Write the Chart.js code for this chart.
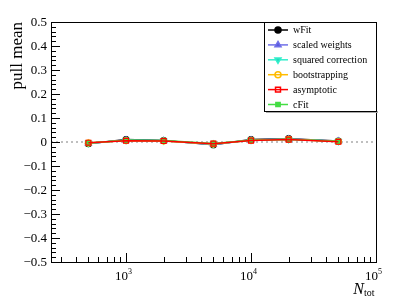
<!DOCTYPE html>
<html>
<head>
<meta charset="utf-8">
<script src="https://cdn.jsdelivr.net/npm/chart.js@4/dist/chart.umd.min.js"></script>
<style>
  html, body { margin: 0; padding: 0; background: #fff; }
  #wrap { width: 407px; height: 299px; }
</style>
</head>
<body>
<div id="wrap"><canvas id="chart" width="407" height="299"></canvas></div>
<script>
// data
const nTot = [500, 1000, 2000, 5000, 10000, 20000, 50000];
const wFit = [-0.007, 0.010, 0.006, -0.011, 0.010, 0.014, 0.004];
const scaledWeights = [-0.006, 0.008, 0.005, -0.010, 0.008, 0.012, 0.003];
const squaredCorr = [-0.005, 0.007, 0.005, -0.009, 0.008, 0.011, 0.003];
const bootstrapping = [-0.004, 0.006, 0.004, -0.008, 0.007, 0.011, 0.002];
const asymptotic = [-0.003, 0.005, 0.004, -0.007, 0.006, 0.010, 0.001];
const cFit = [-0.004, 0.007, 0.006, -0.006, 0.007, 0.010, 0.003];

const seriesNames = ["wFit", "scaled weights", "squared correction", "bootstrapping", "asymptotic", "cFit"];
const yTicks = [-0.5, -0.4, -0.3, -0.2, -0.1, 0, 0.1, 0.2, 0.3, 0.4, 0.5];
const xTickExp = [3, 4, 5];

const serif = '"Liberation Serif", "DejaVu Serif", serif';

const styles = [
  { line: "#000000", fill: "#000000", point: "circle", rot: 0, r: 3 },
  { line: "#7070e8", fill: "#5a5ae0", point: "triangle", rot: 0, r: 3.5 },
  { line: "#33eecc", fill: "#22ddbb", point: "triangle", rot: 180, r: 3.5 },
  { line: "#ffbb00", fill: "rgba(0,0,0,0)", point: "circle", rot: 0, r: 3 },
  { line: "#ff0000", fill: "rgba(0,0,0,0)", point: "rect", rot: 0, r: 3.5 },
  { line: "#44dd44", fill: "#44dd44", point: "rect", rot: 0, r: 3 }
];
const allValues = [wFit, scaledWeights, squaredCorr, bootstrapping, asymptotic, cFit];
// draw order: red on top, then green, ...
const drawOrder = [6, 5, 4, 3, 0, 2];

const datasets = allValues.map((vals, i) => ({
  label: seriesNames[i],
  data: nTot.map((n, j) => ({ x: n, y: vals[j] })),
  showLine: true,
  borderColor: styles[i].line,
  borderWidth: 1.5,
  pointStyle: styles[i].point,
  pointRotation: styles[i].rot,
  pointRadius: styles[i].r,
  pointBackgroundColor: styles[i].fill,
  pointBorderColor: i === 0 ? "#000" : styles[i].line,
  pointBorderWidth: 1.2,
  order: drawOrder[i]
}));

function drawMarker(ctx, i, x, y) {
  const s = styles[i];
  Chart.helpers.drawPoint(ctx, {
    pointStyle: s.point, rotation: s.rot, radius: s.r, borderWidth: 1.2
  }, x, y);
}

const rootAxes = {
  id: "rootAxes",
  beforeDatasetsDraw(chart) {
    const { ctx, chartArea: a, scales: { y } } = chart;
    const y0 = y.getPixelForValue(0);
    ctx.save();
    ctx.strokeStyle = "#aaaaaa";
    ctx.lineWidth = 1.5;
    ctx.setLineDash([2, 3]);
    ctx.beginPath();
    ctx.moveTo(a.left, y0);
    ctx.lineTo(a.right, y0);
    ctx.stroke();
    ctx.restore();
  },
  afterDraw(chart) {
    const { ctx, chartArea: a, scales: { x, y } } = chart;
    ctx.save();
    ctx.strokeStyle = "#000";
    ctx.lineWidth = 1;
    ctx.strokeRect(a.left + 0.5, a.top + 0.5, a.right - a.left, a.bottom - a.top);

    // y ticks
    ctx.beginPath();
    for (let k = -25; k <= 25; k++) {
      const py = Math.round(y.getPixelForValue(k * 0.02)) + 0.5;
      const len = k % 5 === 0 ? 9 : 5;
      ctx.moveTo(a.left, py);
      ctx.lineTo(a.left + len, py);
    }
    // x ticks
    for (let e = 2; e <= 4; e++) {
      for (let m = 1; m <= 9; m++) {
        const v = m * Math.pow(10, e);
        if (v < x.min || v > x.max) continue;
        const px = Math.round(x.getPixelForValue(v)) + 0.5;
        const len = m === 1 ? 9 : 5;
        ctx.moveTo(px, a.bottom);
        ctx.lineTo(px, a.bottom - len);
      }
    }
    ctx.stroke();

    // y labels
    ctx.fillStyle = "#000";
    ctx.font = "13px " + serif;
    ctx.textAlign = "right";
    ctx.textBaseline = "middle";
    yTicks.forEach(v => {
      const txt = v === 0 ? "0" : (v < 0 ? "\u2212" : "") + Math.abs(v).toFixed(1);
      ctx.fillText(txt, a.left - 4, y.getPixelForValue(v) + 1);
    });

    // x labels 10^n
    xTickExp.forEach(e => {
      const px = x.getPixelForValue(Math.pow(10, e));
      ctx.font = "13px " + serif;
      ctx.textAlign = "right";
      ctx.textBaseline = "alphabetic";
      ctx.fillText("10", px + 2, a.bottom + 18);
      ctx.font = "8px " + serif;
      ctx.textAlign = "left";
      ctx.fillText(String(e), px + 2, a.bottom + 12);
    });

    // axis titles
    ctx.font = "italic 16px " + serif;
    ctx.textAlign = "right";
    ctx.fillText("N", a.right - 12, a.bottom + 32);
    ctx.font = "10px " + serif;
    ctx.textAlign = "left";
    ctx.fillText("tot", a.right - 12, a.bottom + 34);

    ctx.save();
    ctx.translate(22, a.top);
    ctx.rotate(-Math.PI / 2);
    ctx.font = "17px " + serif;
    ctx.textAlign = "right";
    ctx.fillText("pull mean", 0, 0);
    ctx.restore();

    // legend box
    const lx = 264, ly = 22, lw = 112, lh = 89;
    ctx.fillStyle = "#aaaaaa";
    ctx.fillRect(lx + 2, ly + lh, lw, 2);
    ctx.fillStyle = "#fff";
    ctx.fillRect(lx, ly, lw, lh);
    ctx.strokeStyle = "#000";
    ctx.lineWidth = 1;
    ctx.strokeRect(lx + 0.5, ly + 0.5, lw, lh);
    seriesNames.forEach((name, i) => {
      const ry = 30 + i * 14.9;
      ctx.strokeStyle = styles[i].line;
      ctx.lineWidth = 1.5;
      ctx.beginPath();
      ctx.moveTo(268, ry);
      ctx.lineTo(288, ry);
      ctx.stroke();
      ctx.fillStyle = styles[i].fill;
      ctx.strokeStyle = i === 0 ? "#000" : styles[i].line;
      drawMarker(ctx, i, 278, ry);
      ctx.fillStyle = "#000";
      ctx.font = "10px " + serif;
      ctx.textAlign = "left";
      ctx.textBaseline = "middle";
      ctx.fillText(name, 293, ry + 0.5);
    });
    ctx.restore();
  }
};

new Chart(document.getElementById("chart").getContext("2d"), {
  type: "scatter",
  data: { datasets },
  options: {
    responsive: false,
    animation: false,
    devicePixelRatio: 1,
    layout: { padding: { left: 51, top: 22, right: 31, bottom: 37 } },
    scales: {
      x: { type: "logarithmic", min: 251, max: 100000, display: false },
      y: { type: "linear", min: -0.5, max: 0.5, display: false }
    },
    plugins: { legend: { display: false }, tooltip: { enabled: false } }
  },
  plugins: [rootAxes]
});
</script>
</body>
</html>
